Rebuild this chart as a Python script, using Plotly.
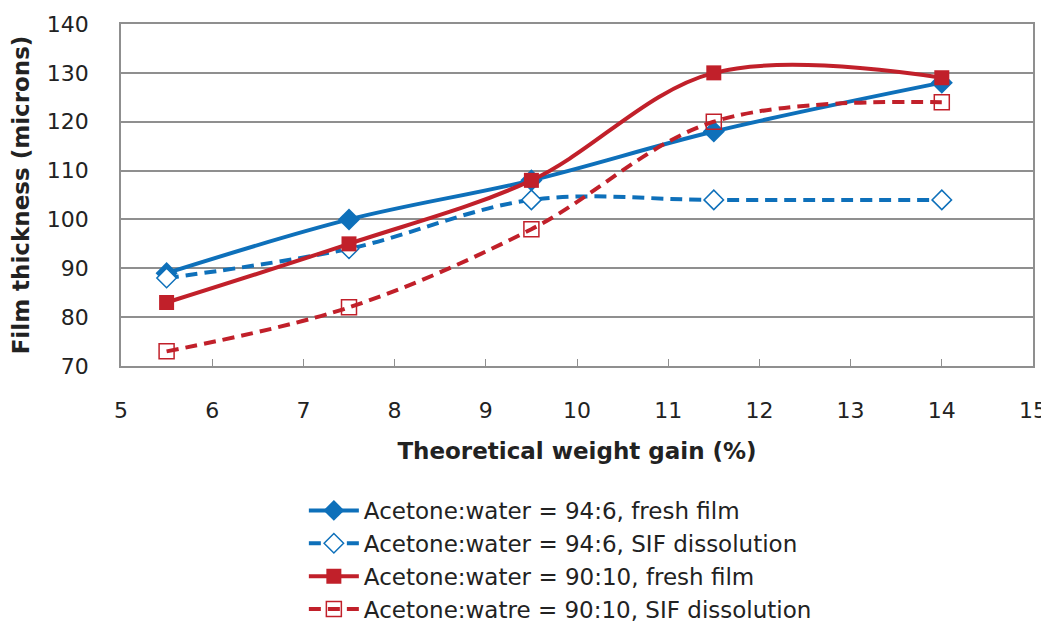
import plotly.graph_objects as go

x = [5.5, 7.5, 9.5, 11.5, 14]
blue_fresh = [89, 100, 108, 118, 128]
blue_sif = [88, 94, 104, 104, 104]
red_fresh = [83, 95, 108, 130, 129]
red_sif = [73, 82, 98, 120, 124]

names = [
    "Acetone:water = 94:6, fresh film",
    "Acetone:water = 94:6, SIF dissolution",
    "Acetone:water = 90:10, fresh film",
    "Acetone:watre = 90:10, SIF dissolution",
]

BLUE = "#0E70BA"
RED = "#C1202A"
GRID = "#8F8F8F"
FONT = "DejaVu Sans"
DASH = "12px,7px"

fig = go.Figure()
fig.add_trace(go.Scatter(x=x, y=blue_fresh, name=names[0], mode="lines+markers",
                         line=dict(color=BLUE, width=4, shape="spline"),
                         marker=dict(symbol="diamond", size=17, color=BLUE)))
fig.add_trace(go.Scatter(x=x, y=blue_sif, name=names[1], mode="lines+markers",
                         line=dict(color=BLUE, width=4, dash=DASH, shape="spline"),
                         marker=dict(symbol="diamond", size=15, color="white",
                                     line=dict(color=BLUE, width=1.5))))
fig.add_trace(go.Scatter(x=x, y=red_fresh, name=names[2], mode="lines+markers",
                         line=dict(color=RED, width=4, shape="spline"),
                         marker=dict(symbol="square", size=15, color=RED)))
fig.add_trace(go.Scatter(x=x, y=red_sif, name=names[3], mode="lines+markers",
                         line=dict(color=RED, width=4, dash=DASH, shape="spline"),
                         marker=dict(symbol="square-open", size=15, color=RED,
                                     line=dict(width=1.5))))

fig.update_layout(
    width=1041, height=617,
    margin=dict(l=113, r=16, t=16, b=259),
    plot_bgcolor="white", paper_bgcolor="white",
    font=dict(family=FONT, size=22, color="#222222"),
    showlegend=True,
    legend=dict(x=0.2005, y=0.2205, xanchor="left", yanchor="top",
                yref="container",
                font=dict(family=FONT, size=23, color="#222222"),
                tracegroupgap=0, itemwidth=50),
    xaxis=dict(range=[5, 15], dtick=1, tick0=5, showgrid=False, automargin=False,
               showline=True, mirror=True, linecolor=GRID, linewidth=1.5,
               ticks="inside", ticklen=7, tickcolor=GRID,
               ticklabelstandoff=24, zeroline=False,
               title=dict(text="<b>Theoretical weight gain (%)</b>",
                          font=dict(family=FONT, size=23), standoff=21)),
    yaxis=dict(range=[70, 140], dtick=10, showgrid=True, gridcolor=GRID,
               gridwidth=1.5, showline=True, mirror=True, linecolor=GRID, linewidth=1.5,
               automargin=False,
               ticks="", zeroline=False,
               ticklabelstandoff=26,
               title=dict(text="<b>Film thickness (microns)</b>",
                          font=dict(family=FONT, size=23), standoff=14)),
)

fig.write_html("out.html")
